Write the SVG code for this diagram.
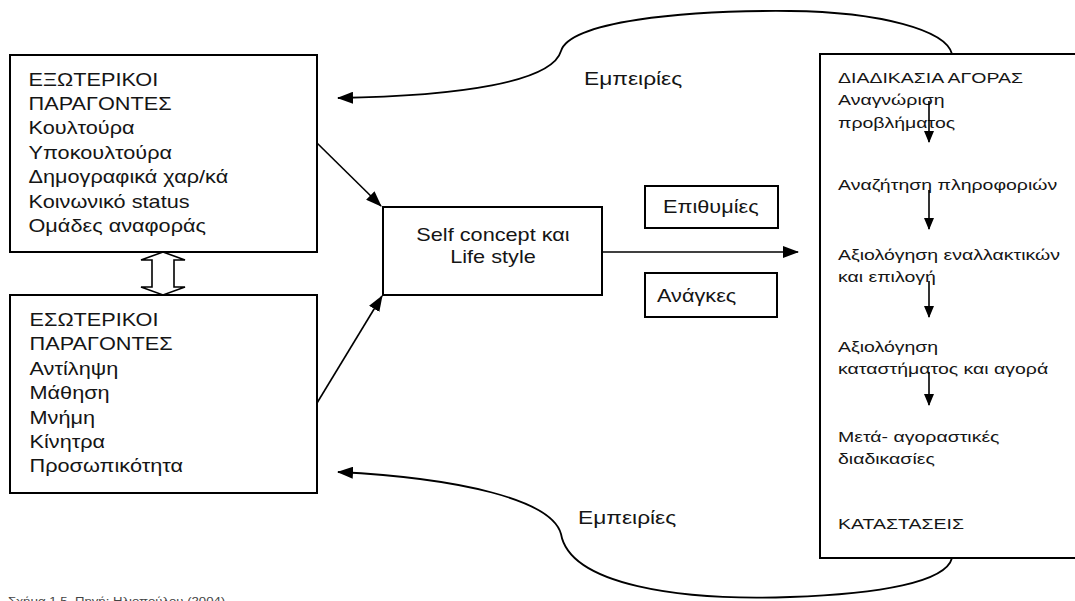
<svg xmlns="http://www.w3.org/2000/svg" width="1075" height="601" viewBox="0 0 1075 601">
<style>
.box{fill:#fff;stroke:#000;stroke-width:2}
.t{font-family:"Liberation Sans",Arial,sans-serif;fill:#151515}
.big{font-size:17.5px}
.mid{font-size:15px}
.cap{font-size:11px;fill:#444}
.ln{fill:none;stroke:#000;stroke-width:1.6}
.cv{fill:none;stroke:#000;stroke-width:1.8}
</style>
<defs>
<marker id="ah" markerWidth="16" markerHeight="12" refX="15" refY="6" orient="auto" markerUnits="userSpaceOnUse"><path d="M0,0 L16,6 L0,12 z" fill="#000"/></marker>
<marker id="ahs" markerWidth="12" markerHeight="10" refX="11" refY="5" orient="auto" markerUnits="userSpaceOnUse"><path d="M0,0 L12,5 L0,10 z" fill="#000"/></marker>
</defs>
<rect width="1075" height="601" fill="#fff"/>

<g id="external">
<rect class="box" x="10" y="55" width="307" height="197"/>
<text class="t big" transform="matrix(1.24 0 0 1 28.5 85.7)"><tspan x="0">ΕΞΩΤΕΡΙΚΟΙ</tspan><tspan x="0" dy="24.4">ΠΑΡΑΓΟΝΤΕΣ</tspan><tspan x="0" dy="24.4">Κουλτούρα</tspan><tspan x="0" dy="24.4">Υποκουλτούρα</tspan><tspan x="0" dy="24.4">Δημογραφικά χαρ/κά</tspan><tspan x="0" dy="24.4">Κοινωνικό status</tspan><tspan x="0" dy="24.4">Ομάδες αναφοράς</tspan></text>
</g>

<g id="internal">
<rect class="box" x="10" y="295" width="307" height="198"/>
<text class="t big" transform="matrix(1.24 0 0 1 29.5 326)"><tspan x="0">ΕΣΩΤΕΡΙΚΟΙ</tspan><tspan x="0" dy="24.4">ΠΑΡΑΓΟΝΤΕΣ</tspan><tspan x="0" dy="24.4">Αντίληψη</tspan><tspan x="0" dy="24.4">Μάθηση</tspan><tspan x="0" dy="24.4">Μνήμη</tspan><tspan x="0" dy="24.4">Κίνητρα</tspan><tspan x="0" dy="24.4">Προσωπικότητα</tspan></text>
</g>

<g id="selfconcept">
<rect class="box" x="383" y="207" width="219" height="88"/>
<text class="t big" text-anchor="middle" transform="matrix(1.24 0 0 1 493 241)"><tspan x="0">Self concept και</tspan><tspan x="0" dy="22.3">Life style</tspan></text>
</g>

<g id="desires">
<rect class="box" x="645" y="186" width="133" height="42"/>
<text class="t big" transform="matrix(1.24 0 0 1 663 213)">Επιθυμίες</text>
</g>

<g id="needs">
<rect class="box" x="645" y="273" width="132" height="44"/>
<text class="t big" transform="matrix(1.24 0 0 1 657 301.5)">Ανάγκες</text>
</g>

<g id="process">
<rect class="box" x="820" y="54" width="262" height="504"/>
<text class="t mid" transform="matrix(1.3 0 0 1 838 0)"><tspan x="0" y="83.3">ΔΙΑΔΙΚΑΣΙΑ ΑΓΟΡΑΣ</tspan><tspan x="0" y="105.5">Αναγνώριση</tspan><tspan x="0" y="127.7">προβλήματος</tspan><tspan x="0" y="190">Αναζήτηση πληροφοριών</tspan><tspan x="0" y="260">Αξιολόγηση εναλλακτικών</tspan><tspan x="0" y="282.5">και επιλογή</tspan><tspan x="0" y="352">Αξιολόγηση</tspan><tspan x="0" y="374">καταστήματος και αγορά</tspan><tspan x="0" y="442">Μετά- αγοραστικές</tspan><tspan x="0" y="464">διαδικασίες</tspan><tspan x="0" y="529.5">ΚΑΤΑΣΤΑΣΕΙΣ</tspan></text>
</g>

<g id="connectors">
<path class="cv" d="M952,54 C946,30 880,12 790,11 C680,10 570,22 561,51 C552,82 460,96 338,98" marker-end="url(#ah)"/>
<path class="cv" d="M952,558 C946,582 880,594 790,597 C680,601 570,585 561,534 C552,500 460,478 338,472" marker-end="url(#ah)"/>
<line class="ln" x1="317" y1="143" x2="381" y2="206" marker-end="url(#ah)"/>
<line class="ln" x1="317" y1="403" x2="382" y2="296" marker-end="url(#ah)"/>
<line class="ln" x1="602" y1="252" x2="798" y2="252" marker-end="url(#ah)"/>
<polygon points="163,252 185,260 174,260 174,287 185,287 163,295 141,287 152,287 152,260 141,260" fill="#fff" stroke="#000" stroke-width="1.6" stroke-linejoin="miter"/>
<line class="ln" x1="929" y1="101" x2="929" y2="142" marker-end="url(#ahs)"/>
<line class="ln" x1="929" y1="190" x2="929" y2="229" marker-end="url(#ahs)"/>
<line class="ln" x1="929" y1="281" x2="929" y2="317" marker-end="url(#ahs)"/>
<line class="ln" x1="929" y1="372" x2="929" y2="405" marker-end="url(#ahs)"/>
</g>

<g id="labels">
<text class="t big" transform="matrix(1.3 0 0 1 584 85)">Εμπειρίες</text>
<text class="t big" transform="matrix(1.3 0 0 1 578 524)">Εμπειρίες</text>
<text class="t cap" transform="matrix(1.2 0 0 1 8 605)">Σχήμα 1.5. Πηγή: Ηλιοπούλου (2004)</text>
</g>
</svg>
